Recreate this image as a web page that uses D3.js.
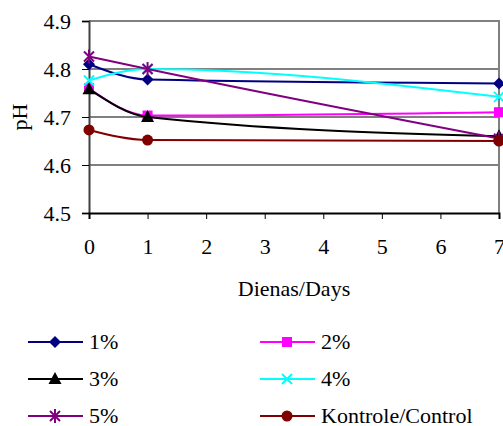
<!DOCTYPE html>
<html>
<head>
<meta charset="utf-8">
<script src="https://cdn.jsdelivr.net/npm/d3@7"></script>
<style>
  body { margin: 0; background: #fff; }
  svg text { font-family: "Liberation Serif", "DejaVu Serif", serif; fill: #000; }
</style>
</head>
<body>
<svg id="chart"></svg>
<script>
const days = [0, 1, 7]
const seriesNames = ['1%', '2%', '3%', '4%', '5%', 'Kontrole/Control']
const ph1 = [4.81, 4.778, 4.77]
const ph2 = [4.76, 4.703, 4.71]
const ph3 = [4.758, 4.70, 4.66]
const ph4 = [4.776, 4.80, 4.742]
const ph5 = [4.826, 4.80, 4.655]
const phControl = [4.673, 4.652, 4.65]
const yTicks = [4.5, 4.6, 4.7, 4.8, 4.9]
const xTicks = [0, 1, 2, 3, 4, 5, 6, 7]

const colors = ['#000080', '#ff00ff', '#000000', '#00ffff', '#800080', '#800000']
const markers = ['diamond', 'square', 'triangle', 'cross', 'star', 'circle']
const allValues = [ph1, ph2, ph3, ph4, ph5, phControl]

const width = 503, height = 426
const margins = {left: 89, right: 4, top: 21, bottom: 213}
const fontFam = '"Liberation Serif", "DejaVu Serif", serif'
const fs = 22

const svg = d3.select('#chart').attr('width', width).attr('height', height)

const x = d3.scaleLinear().domain([0, 7]).range([margins.left, width - margins.right])
const y = d3.scaleLinear().domain([4.5, 4.9]).range([margins.bottom, margins.top])

// gridlines
svg.append('g')
    .selectAll('line')
    .data(yTicks.filter(t => t > 4.5 && t < 4.9))
    .join('line')
    .attr('x1', x(0)).attr('x2', x(7))
    .attr('y1', d => y(d)).attr('y2', d => y(d))
    .attr('stroke', '#000').attr('stroke-width', 1)

// plot border (top / right)
svg.append('path')
    .attr('d', `M${x(0)},${y(4.9)}H${x(7)}V${y(4.5)}`)
    .attr('fill', 'none').attr('stroke', '#808080').attr('stroke-width', 2)

// axes
const yAxis = svg.append('g')
    .attr('transform', `translate(${x(0)},0)`)
    .call(d3.axisLeft(y).tickValues(yTicks).tickFormat(d3.format('.1f')).tickSize(7).tickPadding(11))
yAxis.attr('font-family', fontFam).attr('font-size', fs)
yAxis.select('.domain').attr('stroke', '#404040').attr('stroke-width', 2)

const xAxis = svg.append('g')
    .attr('transform', `translate(0,${y(4.5)})`)
    .call(d3.axisBottom(x).tickValues(xTicks).tickFormat(d3.format('d')).tickSize(6).tickPadding(19))
xAxis.attr('font-family', fontFam).attr('font-size', fs)
xAxis.select('.domain').attr('stroke', '#000').attr('stroke-width', 2)

svg.append('text')
    .attr('x', 294).attr('y', 296)
    .attr('text-anchor', 'middle')
    .attr('font-size', fs)
    .text('Dienas/Days')

svg.append('text')
    .attr('transform', 'translate(27,117) rotate(-90)')
    .attr('text-anchor', 'middle')
    .attr('font-size', fs)
    .text('pH')

function drawMarker(g, type, color) {
    if (type === 'diamond') {
        g.append('path').attr('d', 'M0,-6L6,0L0,6L-6,0Z').attr('fill', color)
    } else if (type === 'square') {
        g.append('rect').attr('x', -5).attr('y', -5).attr('width', 10).attr('height', 10).attr('fill', color)
    } else if (type === 'triangle') {
        g.append('path').attr('d', 'M0,-7L6.5,5L-6.5,5Z').attr('fill', color)
    } else if (type === 'circle') {
        g.append('circle').attr('r', 5.5).attr('fill', color)
    } else if (type === 'cross') {
        g.append('path').attr('d', 'M-5,-5L5,5M-5,5L5,-5').attr('stroke', color).attr('stroke-width', 2)
    } else if (type === 'star') {
        g.append('path').attr('d', 'M-5,-5L5,5M-5,5L5,-5M0,-7V7').attr('stroke', color).attr('stroke-width', 2)
    }
}

const line = d3.line()
    .x(d => x(d[0]))
    .y(d => y(d[1]))
    .curve(d3.curveMonotoneX)

seriesNames.forEach((name, i) => {
    const pts = days.map((d, j) => [d, allValues[i][j]])
    svg.append('path')
        .datum(pts)
        .attr('d', line)
        .attr('fill', 'none')
        .attr('stroke', colors[i])
        .attr('stroke-width', 2)
    pts.forEach(p => {
        const g = svg.append('g').attr('transform', `translate(${x(p[0])},${y(p[1])})`)
        drawMarker(g, markers[i], colors[i])
    })
})

// legend
const legendCols = [28, 260]
const legendRows = [342, 379, 416]
seriesNames.forEach((name, i) => {
    const lx = legendCols[i % 2]
    const ly = legendRows[Math.floor(i / 2)]
    const g = svg.append('g').attr('transform', `translate(${lx},${ly})`)
    g.append('line').attr('x1', 0).attr('x2', 55).attr('y1', 0).attr('y2', 0)
        .attr('stroke', colors[i]).attr('stroke-width', 2)
    const m = g.append('g').attr('transform', 'translate(27,0)')
    drawMarker(m, markers[i], colors[i])
    g.append('text').attr('x', 61).attr('y', 7).attr('font-size', fs).text(name)
})
</script>
</body>
</html>
